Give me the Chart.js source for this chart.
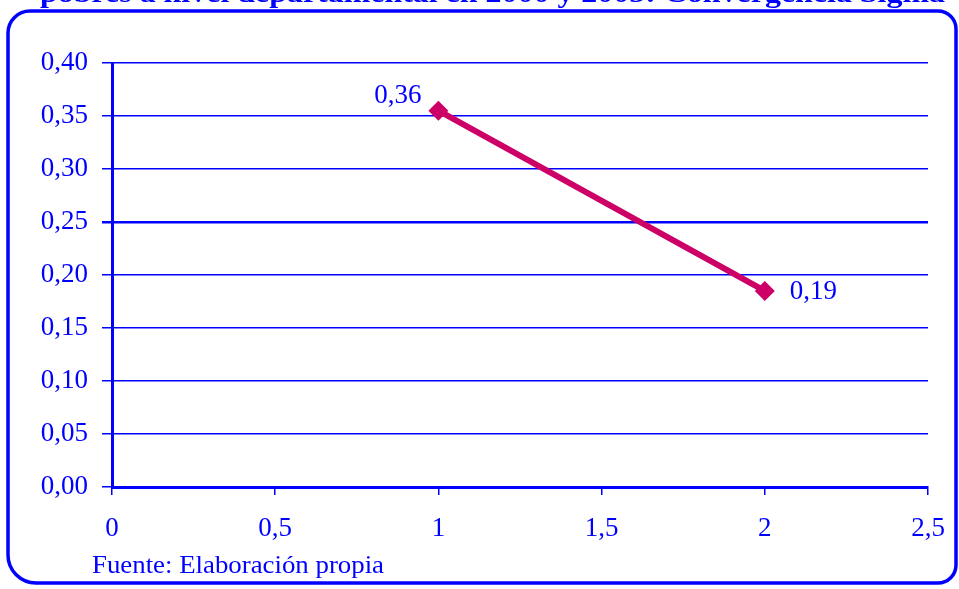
<!DOCTYPE html>
<html>
<head>
<meta charset="utf-8">
<script src="https://cdn.jsdelivr.net/npm/chart.js@4/dist/chart.umd.min.js"></script>
<style>
  body { margin: 0; background: #fff; }
  canvas { display: block; }
</style>
</head>
<body>
<canvas id="chart" width="959" height="589"></canvas>
<script>
// data
var xValues = [1, 2];
var yValues = [0.355, 0.185];
var pointLabels = ['0,36', '0,19'];
var titleText = 'pobres a nivel departamental en 2000 y 2005: Convergencia Sigma';
var sourceText = 'Fuente: Elaboración propia';

var blue = '#0000FF';
var lineColor = '#CC0066';
var serif = '"Liberation Serif", "Times New Roman", serif';

function comma(v) {
    return String(v).replace('.', ',');
}

var points = [];
for (var i = 0; i < xValues.length; i++) {
    points.push({ x: xValues[i], y: yValues[i] });
}

// frame, clipped title, source note and the value labels
var decorations = {
    id: 'decorations',
    beforeDraw: function (chart) {
        var ctx = chart.ctx;
        ctx.save();
        ctx.fillStyle = '#fff';
        ctx.fillRect(0, 0, chart.width, chart.height);
        ctx.restore();
    },
    afterDraw: function (chart) {
        var ctx = chart.ctx;
        ctx.save();

        // rounded frame
        ctx.strokeStyle = blue;
        ctx.lineWidth = 3.5;
        ctx.beginPath();
        ctx.roundRect(8, 11, 948, 572, [22, 18, 18, 28]);
        ctx.stroke();

        // title, only its lower part shows
        ctx.fillStyle = blue;
        ctx.font = 'bold 27px ' + serif;
        ctx.textBaseline = 'alphabetic';
        var w = ctx.measureText(titleText).width;
        ctx.save();
        ctx.translate(40, 2);
        ctx.scale(905 / w, 1);
        ctx.fillText(titleText, 0, 0);
        ctx.restore();

        // source note
        ctx.font = '26px ' + serif;
        ctx.textBaseline = 'middle';
        ctx.textAlign = 'left';
        var sw = ctx.measureText(sourceText).width;
        ctx.save();
        ctx.translate(92, 566);
        ctx.scale(292 / sw, 1);
        ctx.fillText(sourceText, 0, 0);
        ctx.restore();

        // value labels
        var meta = chart.getDatasetMeta(0);
        ctx.font = '27px ' + serif;
        ctx.textAlign = 'right';
        ctx.fillText(pointLabels[0], meta.data[0].x - 17, meta.data[0].y - 15);
        ctx.textAlign = 'left';
        ctx.fillText(pointLabels[1], meta.data[1].x + 25, meta.data[1].y + 1);

        ctx.restore();
    }
};

new Chart(document.getElementById('chart'), {
    type: 'scatter',
    data: {
        datasets: [{
            data: points,
            showLine: true,
            borderColor: lineColor,
            borderWidth: 6,
            backgroundColor: lineColor,
            pointStyle: 'rectRot',
            pointRadius: 10,
            pointHoverRadius: 10,
            pointBorderWidth: 0
        }]
    },
    options: {
        responsive: false,
        animation: false,
        layout: { padding: { top: 63, right: 31, left: 0, bottom: 0 } },
        plugins: {
            legend: { display: false },
            tooltip: { enabled: false }
        },
        scales: {
            x: {
                type: 'linear',
                min: 0,
                max: 2.5,
                afterFit: function (scale) {
                    scale.height = 102;
                    scale.paddingLeft = 0;
                    scale.paddingRight = 0;
                },
                ticks: {
                    stepSize: 0.5,
                    color: blue,
                    padding: 18,
                    maxRotation: 0,
                    font: { family: serif, size: 27 },
                    callback: function (v) { return comma(v); }
                },
                grid: {
                    drawOnChartArea: false,
                    color: blue,
                    lineWidth: 1.5,
                    tickLength: 8
                },
                border: { color: blue, width: 3 }
            },
            y: {
                min: 0,
                max: 0.4,
                afterFit: function (scale) {
                    scale.width = 112;
                    scale.paddingTop = 0;
                    scale.paddingBottom = 0;
                },
                ticks: {
                    stepSize: 0.05,
                    color: blue,
                    padding: 14,
                    font: { family: serif, size: 27 },
                    callback: function (v) { return v.toFixed(2).replace('.', ','); }
                },
                grid: {
                    color: blue,
                    lineWidth: function (c) {
                        return c.tick && Math.abs(c.tick.value - 0.25) < 1e-6 ? 2.5 : 1.5;
                    },
                    tickLength: 10
                },
                border: { color: blue, width: 3 }
            }
        }
    },
    plugins: [decorations]
});
</script>
</body>
</html>
